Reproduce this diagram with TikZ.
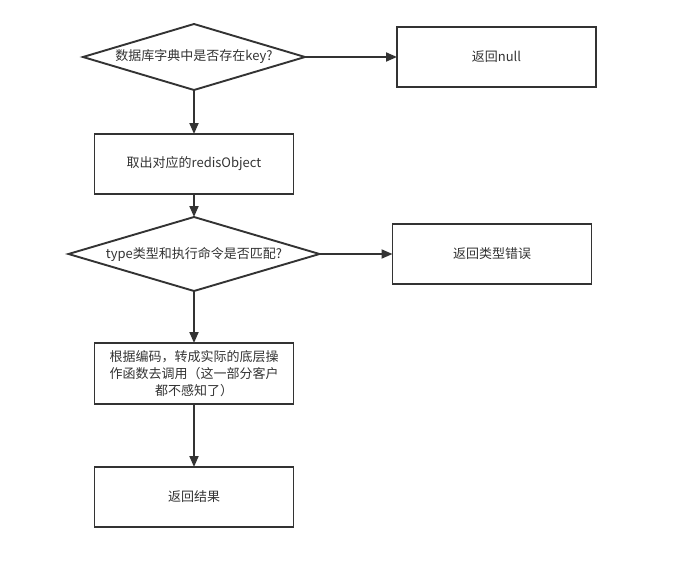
\documentclass[tikz,border=0pt]{standalone}
\usepackage{fontspec}
\setmainfont{Noto Sans CJK SC}
\usetikzlibrary{positioning,shapes,arrows.meta}
\definecolor{inkgray}{HTML}{333333}

\begin{document}
\begin{tikzpicture}[
    x=1pt, y=1pt,
    >={Triangle[length=11pt,width=9pt]},
    font=\fontsize{13}{17}\selectfont,
    box/.style={rectangle, draw=inkgray, text=inkgray, line width=1.9pt, minimum width=199pt, minimum height=60pt, align=center, outer sep=0pt},
    decision/.style={diamond, draw=inkgray, text=inkgray, line width=1.9pt, aspect=3.35, inner sep=0pt, align=center, outer sep=0pt},
    flow/.style={draw=inkgray, line width=1.9pt, ->},
]
\useasboundingbox (0,0) rectangle (696,-578);

% Left column: checks and steps
\node[decision, minimum width=222pt, minimum height=66pt] (haskey) at (194,-57) {数据库字典中是否存在key?};
\node[box, below=44pt of haskey] (getobj) {取出对应的redisObject};
\node[decision, below=23pt of getobj, minimum width=251pt, minimum height=74pt] (typematch) {type类型和执行命令是否匹配?};
\node[box, below=52pt of typematch, minimum height=61pt] (callfunc) {根据编码，转成实际的底层操\\作函数去调用（这一部分客户\\都不感知了）};
\node[box, below=63pt of callfunc] (result) {返回结果};

% Right column: early returns
\node[box, right=92pt of haskey] (retnull) {返回null};
\node[box, right=73pt of typematch] (reterr) {返回类型错误};

% Arrows
\draw[flow] (haskey) -- (getobj);
\draw[flow] (haskey) -- (retnull);
\draw[flow] (getobj) -- (typematch);
\draw[flow] (typematch) -- (reterr);
\draw[flow] (typematch) -- (callfunc);
\draw[flow] (callfunc) -- (result);

\end{tikzpicture}
\end{document}
